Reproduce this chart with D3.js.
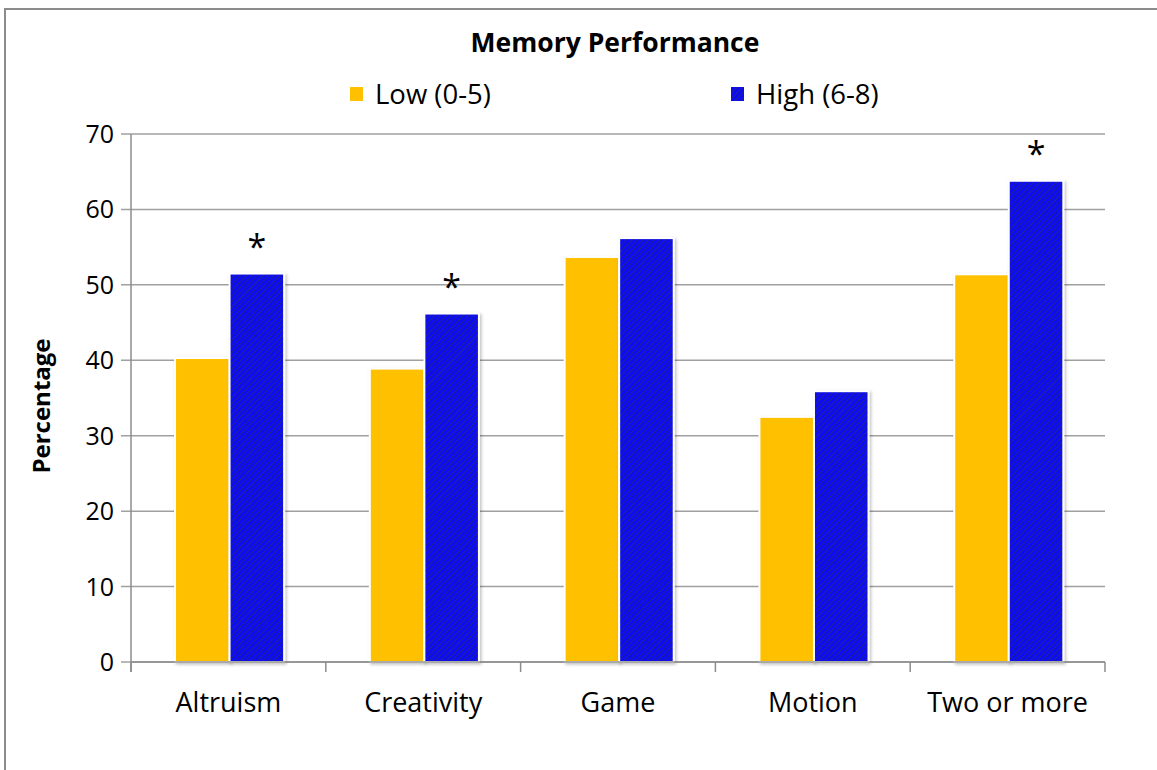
<!DOCTYPE html>
<html>
<head>
<meta charset="utf-8">
<script src="https://cdn.jsdelivr.net/npm/d3@7"></script>
<style>
  body { margin: 0; background: #fff; }
  text { font-family: "Open Sans", Lato, sans-serif; fill: #000; }
</style>
</head>
<body>
<svg id="chart" width="1157" height="770"></svg>
<script>
const categories = ["Altruism", "Creativity", "Game", "Motion", "Two or more"];
const series = ["Low (0-5)", "High (6-8)"];
const lowValues = [40.3, 38.9, 53.7, 32.5, 51.4];
const highValues = [51.5, 46.2, 56.2, 35.9, 63.8];
const significant = [true, true, false, false, true];  // asterisk over the High bar
const yTicks = [0, 10, 20, 30, 40, 50, 60, 70];

const svg = d3.select("#chart");
const margin = { left: 131, right: 1105, top: 134, bottom: 662 };

// chart frame (only top and left edges are visible in the crop)
svg.append("rect")
    .attr("x", 5).attr("y", 9)
    .attr("width", 1200).attr("height", 800)
    .attr("fill", "none")
    .attr("stroke", "#8c8c8c")
    .attr("stroke-width", 2);

const defs = svg.append("defs");
const pat = defs.append("pattern")
    .attr("id", "hatch")
    .attr("patternUnits", "userSpaceOnUse")
    .attr("width", 4).attr("height", 4)
    .attr("patternTransform", "rotate(45)");
pat.append("rect").attr("width", 4).attr("height", 4).attr("fill", "#0a0af5");
pat.append("line")
    .attr("x1", 0).attr("y1", 0).attr("x2", 0).attr("y2", 4)
    .attr("stroke", "#2a2a75").attr("stroke-width", 1.6);

const shadow = defs.append("filter").attr("id", "shadow")
    .attr("x", "-20%").attr("y", "-20%").attr("width", "140%").attr("height", "140%");
shadow.append("feDropShadow")
    .attr("dx", 1.5).attr("dy", 1.5).attr("stdDeviation", 1.5)
    .attr("flood-color", "#000").attr("flood-opacity", 0.25);

const y = d3.scaleLinear().domain([0, 70]).range([margin.bottom, margin.top]);
const x = d3.scaleBand().domain(categories).range([margin.left, margin.right]);
const bw = x.bandwidth();
const x1 = d3.scaleBand().domain(series).range([bw * 0.226, bw * 0.786]);

// gridlines + y ticks
svg.append("g").selectAll("line")
    .data(yTicks)
    .enter().append("line")
    .attr("x1", margin.left - 10).attr("x2", margin.right)
    .attr("y1", d => y(d)).attr("y2", d => y(d))
    .attr("stroke", "#a0a0a0").attr("stroke-width", 1.5);

svg.append("g").selectAll("text")
    .data(yTicks)
    .enter().append("text")
    .attr("x", 114).attr("y", d => y(d))
    .attr("dy", "0.36em")
    .attr("text-anchor", "end")
    .attr("font-size", 25)
    .text(d => d);

// y axis line
svg.append("line")
    .attr("x1", margin.left).attr("x2", margin.left)
    .attr("y1", margin.top).attr("y2", margin.bottom + 10)
    .attr("stroke", "#8c8c8c").attr("stroke-width", 1.5);

// bars
const data = categories.map((c, i) => ({ cat: c, values: [lowValues[i], highValues[i]], sig: significant[i] }));
const groups = svg.append("g").selectAll("g")
    .data(data)
    .enter().append("g")
    .attr("transform", d => `translate(${x(d.cat)},0)`);

groups.selectAll("rect")
    .data(d => d.values.map((v, j) => ({ s: series[j], v: v })))
    .enter().append("rect")
    .attr("x", d => x1(d.s))
    .attr("width", x1.bandwidth())
    .attr("y", d => y(d.v))
    .attr("height", d => y(0) - y(d.v))
    .attr("fill", (d, j) => j === 0 ? "#ffc000" : "url(#hatch)")
    .attr("stroke", "#fff")
    .attr("stroke-width", 2)
    .attr("filter", "url(#shadow)");

groups.filter(d => d.sig).append("text")
    .attr("x", x1(series[1]) + x1.bandwidth() / 2)
    .attr("y", d => y(d.values[1]) - 15)
    .attr("text-anchor", "middle")
    .attr("font-size", 34)
    .text("*");

// x axis
svg.append("line")
    .attr("x1", margin.left).attr("x2", margin.right)
    .attr("y1", margin.bottom).attr("y2", margin.bottom)
    .attr("stroke", "#8c8c8c").attr("stroke-width", 1.5);

svg.append("g").selectAll("line")
    .data(categories.concat(["end"]))
    .enter().append("line")
    .attr("x1", (d, i) => margin.left + i * bw).attr("x2", (d, i) => margin.left + i * bw)
    .attr("y1", margin.bottom).attr("y2", margin.bottom + 10)
    .attr("stroke", "#8c8c8c").attr("stroke-width", 1.5);

svg.append("g").selectAll("text")
    .data(categories)
    .enter().append("text")
    .attr("x", d => x(d) + bw / 2)
    .attr("y", 712)
    .attr("text-anchor", "middle")
    .attr("font-size", 27)
    .text(d => d);

// y title
svg.append("text")
    .attr("transform", "translate(50,406) rotate(-90)")
    .attr("text-anchor", "middle")
    .attr("font-size", 24)
    .attr("font-weight", "bold")
    .text("Percentage");

// title
svg.append("text")
    .attr("x", 615).attr("y", 52)
    .attr("text-anchor", "middle")
    .attr("font-size", 26.5)
    .attr("font-weight", "bold")
    .text("Memory Performance");

// legend
const legendX = [350, 731];
const legend = svg.append("g").selectAll("g")
    .data(series)
    .enter().append("g")
    .attr("transform", (d, i) => `translate(${legendX[i]},87)`);
legend.append("rect")
    .attr("width", 13).attr("height", 14)
    .attr("fill", (d, i) => i === 0 ? "#ffc000" : "url(#hatch)");
legend.append("text")
    .attr("x", 25).attr("y", 17)
    .attr("font-size", 27.5)
    .text(d => d);
</script>
</body>
</html>
